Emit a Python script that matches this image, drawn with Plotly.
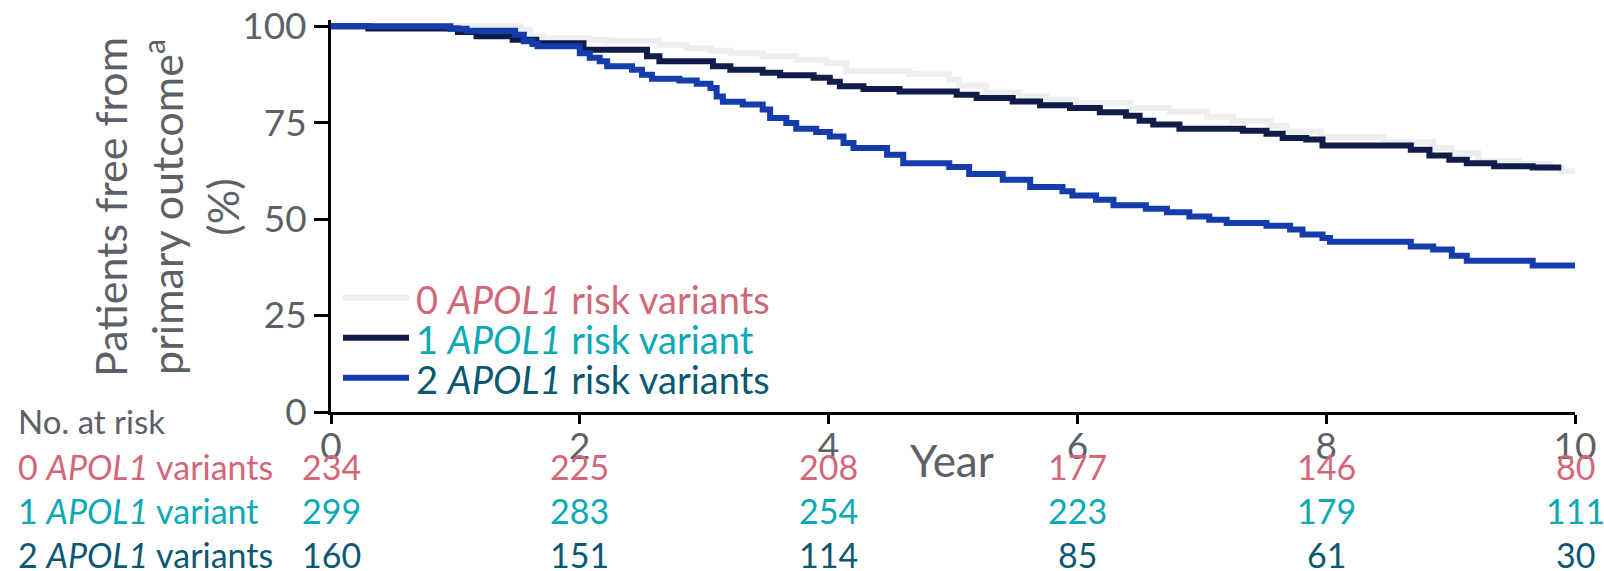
import plotly.graph_objects as go

# ---------------- data ----------------
years_ticks = [0, 2, 4, 6, 8, 10]

# Kaplan-Meier step curves (time in years, % free from primary outcome)
t_zero = [0, 1.52, 1.60, 1.70, 2.08, 2.22, 2.64, 2.86, 3.05, 3.21, 3.47, 3.74, 3.98, 4.14, 4.65,
          4.97, 5.05, 5.27, 5.54, 5.75, 5.99, 6.42, 6.74, 7.04, 7.25, 7.55, 7.68, 7.96, 8.46,
          8.86, 9.01, 9.22, 9.55, 9.80, 9.89, 10.0]
s_zero = [100, 99.1, 97.4, 96.9, 96.5, 96.2, 95.2, 94.3, 93.6, 93.0, 92.2, 91.3, 90.5, 88.3, 87.6,
          86.1, 84.6, 82.8, 81.8, 80.9, 80.1, 78.8, 77.9, 76.5, 75.5, 74.2, 72.7, 71.2, 69.9,
          68.4, 67.1, 65.0, 64.3, 63.2, 62.4, 62.4]

t_one = [0, 0.30, 1.02, 1.17, 1.46, 1.65, 2.03, 2.54, 2.64, 3.07, 3.21, 3.47, 3.61, 3.88, 4.01,
         4.09, 4.28, 4.57, 5.03, 5.19, 5.48, 5.70, 5.94, 6.18, 6.39, 6.50, 6.61, 6.82, 7.33,
         7.52, 7.65, 7.84, 7.97, 8.68, 8.83, 8.99, 9.13, 9.35, 9.66, 9.89]
s_one = [100, 99.4, 98.5, 97.4, 96.5, 95.6, 93.9, 92.2, 90.9, 89.6, 88.7, 87.9, 87.3, 86.6, 85.6,
         84.4, 83.7, 83.1, 82.2, 81.4, 80.5, 79.5, 78.8, 77.7, 76.8, 75.5, 74.5, 73.4, 72.9,
         72.1, 71.0, 70.6, 69.1, 68.0, 66.5, 65.4, 64.5, 63.7, 63.4, 63.4]

t_two = [0, 0.96, 1.09, 1.48, 1.55, 1.62, 1.66, 2.00, 2.08, 2.16, 2.22, 2.42, 2.50, 2.58, 2.80,
         2.94, 3.05, 3.10, 3.15, 3.31, 3.47, 3.53, 3.66, 3.74, 3.90, 4.01, 4.12, 4.20, 4.47,
         4.60, 4.97, 5.13, 5.40, 5.62, 5.88, 5.96, 6.15, 6.29, 6.55, 6.72, 6.90, 7.06, 7.20,
         7.52, 7.71, 7.81, 7.97, 8.03, 8.68, 8.86, 9.01, 9.13, 9.66, 10.0]
s_two = [100, 99.3, 98.8, 97.8, 96.1, 95.4, 94.8, 93.0, 91.8, 90.9, 89.6, 88.7, 87.4, 86.4, 85.9,
         85.1, 84.0, 81.8, 80.4, 79.7, 78.4, 76.2, 74.9, 73.4, 72.6, 71.4, 69.7, 68.4, 66.7,
         64.5, 63.5, 61.7, 60.2, 58.3, 57.2, 56.1, 55.0, 53.6, 52.7, 51.8, 50.7, 49.8, 49.0,
         48.3, 47.3, 46.0, 45.1, 44.1, 42.9, 42.1, 40.5, 39.2, 38.0, 38.0]

risk_zero = [234, 225, 208, 177, 146, 80]
risk_one = [299, 283, 254, 223, 179, 111]
risk_two = [160, 151, 114, 85, 61, 30]

legend_labels = ["0 <i>APOL1</i> risk variants", "1 <i>APOL1</i> risk variant", "2 <i>APOL1</i> risk variants"]
row_labels = ["0 <i>APOL1</i> variants", "1 <i>APOL1</i> variant", "2 <i>APOL1</i> variants"]

# ---------------- style ----------------
line_colors = ["#EDEEF0", "#101D4A", "#143CAA"]
text_colors = ["#D3677A", "#0AA9B6", "#0B5873"]
grey = "#5c6167"
FONT = "Lato"

W, H = 1604, 571
L, R, T, B = 331, 29, 20, 159
PW, PH = W - L - R, H - T - B


def px_x(x):
    return (x - L) / PW


def px_y(y):
    return (H - B - y) / PH


fig = go.Figure()
for t, s, c in zip([t_zero, t_one, t_two], [s_zero, s_one, s_two], line_colors):
    fig.add_trace(go.Scatter(x=t, y=s, mode="lines", line=dict(color=c, width=6, shape="hv"),
                             showlegend=False, hoverinfo="skip"))

annotations = []
shapes = []

# custom legend
leg_y = [297.7, 337.7, 377.7]
for lab, lc, tc, yy in zip(legend_labels, line_colors, text_colors, leg_y):
    shapes.append(dict(type="line", xref="paper", yref="paper", x0=px_x(343), x1=px_x(409),
                       y0=px_y(yy), y1=px_y(yy), line=dict(color=lc, width=6)))
    annotations.append(dict(xref="paper", yref="paper", x=px_x(414), y=px_y(yy + 1), text=lab,
                            showarrow=False, xanchor="left", yanchor="middle",
                            font=dict(family=FONT, size=38, color=tc)))

# y axis title
annotations.append(dict(xref="paper", yref="paper", x=px_x(166), y=px_y(207),
                        text="Patients free from<br>primary outcome<sup>a</sup><br>(%)",
                        textangle=-90, showarrow=False, xanchor="center", yanchor="middle",
                        font=dict(family=FONT, size=43, color=grey)))
# x axis title
annotations.append(dict(xref="paper", yref="paper", x=px_x(952), y=px_y(460), text="Year",
                        showarrow=False, xanchor="center", yanchor="middle",
                        font=dict(family=FONT, size=44, color=grey)))

# number at risk table
annotations.append(dict(xref="paper", yref="paper", x=px_x(16), y=px_y(421), text="No. at risk",
                        showarrow=False, xanchor="left", yanchor="middle",
                        font=dict(family=FONT, size=33, color=grey)))
row_y = [466, 511, 554]
for lab, vals, tc, yy in zip(row_labels, [risk_zero, risk_one, risk_two], text_colors, row_y):
    annotations.append(dict(xref="paper", yref="paper", x=px_x(16), y=px_y(yy), text=lab,
                            showarrow=False, xanchor="left", yanchor="middle",
                            font=dict(family=FONT, size=34, color=tc)))
    for xv, v in zip(years_ticks, vals):
        annotations.append(dict(xref="x", yref="paper", x=xv, y=px_y(yy), text=str(v),
                                showarrow=False, xanchor="center", yanchor="middle",
                                font=dict(family=FONT, size=34, color=tc)))

fig.update_layout(
    width=W, height=H,
    margin=dict(l=L, r=R, t=T, b=B, autoexpand=False),
    paper_bgcolor="white", plot_bgcolor="white",
    showlegend=False,
    annotations=annotations, shapes=shapes,
    xaxis=dict(range=[0, 10], tickvals=years_ticks, ticks="outside", ticklen=9, tickwidth=3,
               tickcolor="black", showline=True, linewidth=3, linecolor="black",
               showgrid=False, zeroline=False, ticklabelstandoff=-9,
               tickfont=dict(family=FONT, size=37, color=grey)),
    yaxis=dict(range=[0, 101.6], tickvals=[0, 25, 50, 75, 100], ticks="outside", ticklen=14,
               tickwidth=3, tickcolor="black", showline=True, linewidth=3, linecolor="black",
               showgrid=False, zeroline=False,
               tickfont=dict(family=FONT, size=37, color=grey)),
)

fig.write_html("out.html")
